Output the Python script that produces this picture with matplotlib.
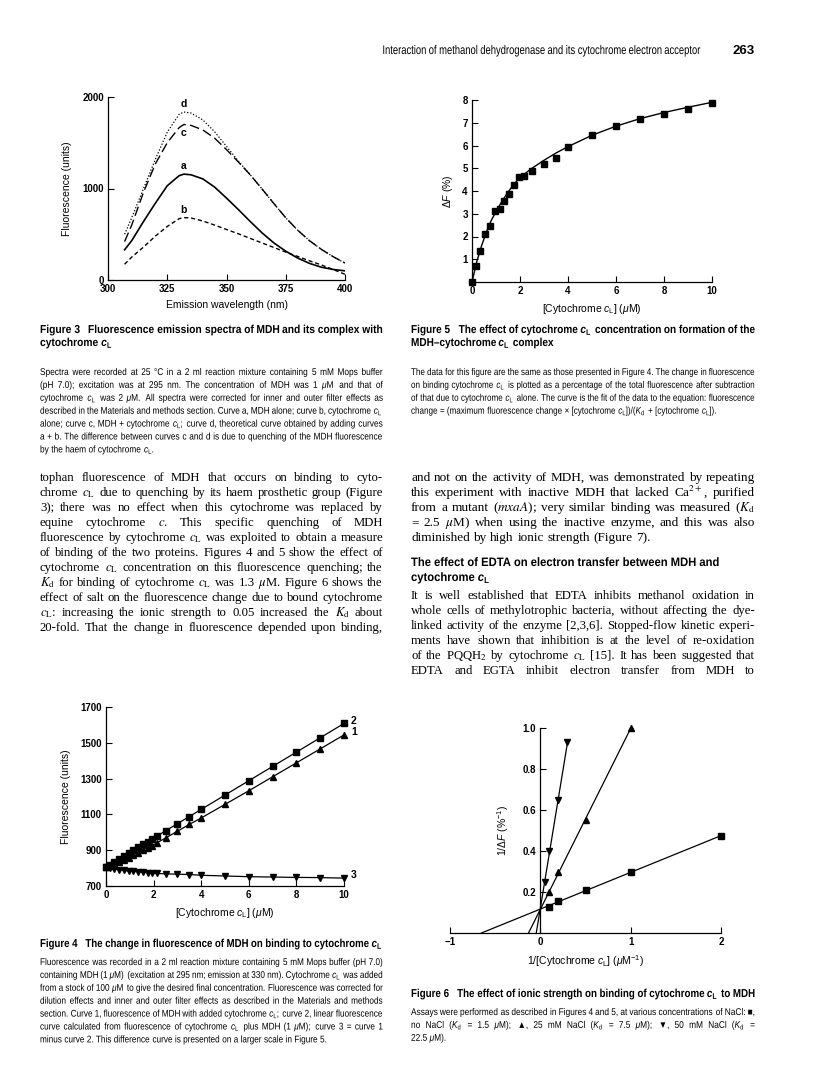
import matplotlib
matplotlib.use('Agg')
import matplotlib.pyplot as plt
import numpy as np
from matplotlib.font_manager import FontProperties
from matplotlib.patheffects import AbstractPathEffect
from matplotlib.ticker import FormatStrFormatter
from matplotlib.transforms import Affine2D

W, H = 816, 1089

# ---------------- data ----------------
# Figure 3: emission spectra (nm, fluorescence units)
wavelength = [307, 310, 315, 320, 325, 330, 332, 335, 340, 345, 350,
              355, 360, 365, 370, 375, 380, 385, 390, 395, 400]
curve_a = [330, 430, 640, 840, 1030, 1140, 1157, 1150, 1105, 1015, 895,
           770, 640, 515, 405, 315, 240, 182, 140, 115, 100]
curve_b = [172, 250, 360, 480, 585, 670, 682, 678, 645, 600, 552,
           505, 455, 405, 355, 305, 258, 210, 165, 115, 62]
curve_c = [420, 600, 960, 1270, 1500, 1665, 1700, 1690, 1640, 1550, 1425,
           1290, 1150, 995, 835, 680, 545, 430, 335, 255, 185]
curve_d = [500, 680, 1000, 1320, 1615, 1810, 1836, 1825, 1750, 1620, 1460,
           1300, 1150, 995, 835, 680, 545, 430, 335, 255, 185]

# Figures 4 and 5: cytochrome cL titration (uM)
conc = [0, 0.15, 0.35, 0.55, 0.75, 0.95, 1.15, 1.35, 1.55, 1.75, 1.95,
        2.15, 2.5, 3, 3.5, 4, 5, 6, 7, 8, 9, 10]
curve1 = [808, 814, 825, 835, 848, 859, 874, 887, 901, 914, 926,
          942, 968, 1006, 1044, 1080, 1156, 1232, 1310, 1388, 1466, 1544]
curve2 = [808, 820, 836, 852, 868, 884, 900, 916, 932, 948, 964,
          980, 1008, 1048, 1088, 1128, 1208, 1288, 1368, 1448, 1528, 1608]
curve3 = [808, 802, 797, 791, 788, 783, 782, 779, 777, 774, 770,
          770, 768, 766, 764, 760, 756, 752, 750, 748, 747, 744]
delta_f = [0, 0.69, 1.35, 2.1, 2.44, 3.13, 3.23, 3.57, 3.87, 4.25, 4.63,
           4.65, 4.9, 5.17, 5.47, 5.95, 6.46, 6.87, 7.16, 7.37, 7.59, 7.88]
fit_x = [0, 0.1, 0.2, 0.4, 0.6, 0.8, 1.0, 1.25, 1.5, 1.75, 2, 2.5, 3,
         3.5, 4, 5, 6, 7, 8, 9, 10]
fit_y = [0, 0.45, 0.9, 1.6, 2.2, 2.7, 3.1, 3.55, 3.95, 4.3, 4.6, 5.0, 5.35,
         5.67, 5.95, 6.45, 6.85, 7.18, 7.45, 7.68, 7.9]

# Figure 6: double-reciprocal plot at three NaCl concentrations
inv_conc_0 = [0.1, 0.2, 0.5, 1.0, 2.0]
inv_df_0 = [0.128, 0.154, 0.21, 0.30, 0.472]
inv_conc_25 = [0.1, 0.2, 0.5, 1.0]
inv_df_25 = [0.2, 0.3, 0.55, 1.0]
inv_conc_50 = [0.05, 0.1, 0.2, 0.3]
inv_df_50 = [0.25, 0.40, 0.65, 0.93]

# ---------------- fonts ----------------
plt.rcParams.update({
    'font.family': 'Liberation Sans',
    'mathtext.fontset': 'custom',
    'mathtext.rm': 'Liberation Sans',
    'mathtext.it': 'Liberation Sans:italic',
    'mathtext.bf': 'Liberation Sans:bold',
    'mathtext.bfit': 'Liberation Sans:italic:bold',
    'axes.linewidth': 0.9,
})


class Stretch(AbstractPathEffect):
    """Stretch glyphs upwards from the baseline: a smaller font drawn taller
    gives the look of the condensed face used on the page."""

    def __init__(self, sy):
        super().__init__()
        self.sy = sy

    def draw_path(self, renderer, gc, tpath, affine, rgbFace=None):
        y0 = affine.get_matrix()[1, 2]
        st = Affine2D().translate(0, -y0).scale(1, self.sy).translate(0, y0)
        gc0 = renderer.new_gc()
        gc0.copy_properties(gc)
        gc0.set_snap(False)
        renderer.draw_path(gc0, tpath, affine + st, rgbFace)
        gc0.restore()


def font(kind, size):
    if kind == 'serif':
        return FontProperties(family='Liberation Serif', size=size)
    if kind == 'bold':
        return FontProperties(family='Liberation Sans', weight='bold', size=size)
    return FontProperties(family='Liberation Sans', size=size)


fig = plt.figure(figsize=(W / 100, H / 100), dpi=100)
rend = fig.canvas.get_renderer()


def block(lines, x0, x1, y0, step, kind, size, ragged=(), condensed=False, right=False):
    """Word-by-word justified text; y0 = first baseline in pixels from the top."""
    math = 'stix' if kind == 'serif' else 'custom'
    rows, weights = [], []
    for ln in lines:
        words = ln.split()
        rows.append([fig.text(0, 0, w, fontproperties=font(kind, size), va='baseline',
                              math_fontfamily=math) for w in words])
        # wide gap after the figure number of a caption title
        weights.append([3 if (j == 1 and words[0] == 'Figure') else 1 for j in range(len(words) - 1)])
    sp = 0.27 * size * 100 / 72

    def widths(row):
        return [t.get_window_extent(rend).width for t in row]

    nat = [sum(widths(r)) + sp * sum(wt) for r, wt in zip(rows, weights)]
    scale = min(1.0, (x1 - x0) / max(nat))
    if scale < 1:
        for r in rows:
            for t in r:
                t.set_fontsize(size * scale)
                if condensed:
                    t.set_path_effects([Stretch(1 / scale)])
    sp *= scale
    for i, (r, wt) in enumerate(zip(rows, weights)):
        ws = widths(r)
        if i in ragged or not wt:
            unit = sp
        else:
            unit = (x1 - x0 - sum(ws)) / sum(wt)
        x = x1 - sum(ws) - unit * sum(wt) if right else x0
        for j, (t, w) in enumerate(zip(r, ws)):
            t.set_position((x / W, 1 - (y0 + i * step) / H))
            x += w + (unit * wt[j] if j < len(wt) else 0)


LX0, LX1 = 40, 383
RX0, RX1 = 411, 755

# running head
fig.text(RX1 / W, 1 - 54 / H, '263', fontproperties=font('bold', 9.5), ha='right', va='baseline')
block(['Interaction of methanol dehydrogenase and its cytochrome electron acceptor'],
      380, 700, 54, 13, 'cap', 9, ragged=(0,), condensed=True, right=True)

# ---- captions ----
block(['Figure 3 Fluorescence emission spectra of MDH and its complex with',
       r'cytochrome $\mathbfit{c}_\mathbf{L}$'],
      LX0, LX1, 333, 13, 'bold', 8.3, ragged=(1,), condensed=True)
block(['Spectra were recorded at 25 °C in a 2 ml reaction mixture containing 5 mM Mops buffer',
       r'(pH 7.0); excitation was at 295 nm. The concentration of MDH was 1 $\mu$M and that of',
       r'cytochrome $c_\mathrm{L}$ was 2 $\mu$M. All spectra were corrected for inner and outer filter effects as',
       r'described in the Materials and methods section. Curve a, MDH alone; curve b, cytochrome $c_\mathrm{L}$',
       r'alone; curve c, MDH + cytochrome $c_\mathrm{L}$; curve d, theoretical curve obtained by adding curves',
       'a + b. The difference between curves c and d is due to quenching of the MDH fluorescence',
       r'by the haem of cytochrome $c_\mathrm{L}$.'],
      LX0, LX1, 375, 12.9, 'cap', 7, ragged=(6,), condensed=True)

block(['Figure 5 The effect of cytochrome $\\mathbfit{c}_\\mathbf{L}$ concentration on formation of the',
       r'MDH–cytochrome $\mathbfit{c}_\mathbf{L}$ complex'],
      RX0, RX1, 333, 13, 'bold', 8.3, ragged=(1,), condensed=True)
block(['The data for this figure are the same as those presented in Figure 4. The change in fluorescence',
       r'on binding cytochrome $c_\mathrm{L}$ is plotted as a percentage of the total fluorescence after subtraction',
       r'of that due to cytochrome $c_\mathrm{L}$ alone. The curve is the fit of the data to the equation: fluorescence',
       r'change = (maximum fluorescence change × [cytochrome $c_\mathrm{L}$])/($K_\mathrm{d}$ + [cytochrome $c_\mathrm{L}$]).'],
      RX0, RX1, 375, 12.9, 'cap', 7, ragged=(3,), condensed=True)

block(['Figure 4 The change in fluorescence of MDH on binding to cytochrome $\\mathbfit{c}_\\mathbf{L}$'],
      LX0, LX1, 947, 13, 'bold', 8.3, condensed=True)
block(['Fluorescence was recorded in a 2 ml reaction mixture containing 5 mM Mops buffer (pH 7.0)',
       r'containing MDH (1 $\mu$M) (excitation at 295 nm; emission at 330 nm). Cytochrome $c_\mathrm{L}$ was added',
       r'from a stock of 100 $\mu$M to give the desired final concentration. Fluorescence was corrected for',
       'dilution effects and inner and outer filter effects as described in the Materials and methods',
       r'section. Curve 1, fluorescence of MDH with added cytochrome $c_\mathrm{L}$; curve 2, linear fluorescence',
       r'curve calculated from fluorescence of cytochrome $c_\mathrm{L}$ plus MDH (1 $\mu$M); curve 3 = curve 1',
       'minus curve 2. This difference curve is presented on a larger scale in Figure 5.'],
      LX0, LX1, 965, 12.9, 'cap', 7, ragged=(6,), condensed=True)

block(['Figure 6 The effect of ionic strength on binding of cytochrome $\\mathbfit{c}_\\mathbf{L}$ to MDH'],
      RX0, RX1, 997, 13, 'bold', 8.3, condensed=True)
block([r'Assays were performed as described in Figures 4 and 5, at various concentrations of NaCl: ■,',
       r'no NaCl ($K_\mathrm{d}$ = 1.5 $\mu$M); ▲, 25 mM NaCl ($K_\mathrm{d}$ = 7.5 $\mu$M); ▼, 50 mM NaCl ($K_\mathrm{d}$ =',
       r'22.5 $\mu$M).'],
      RX0, RX1, 1015, 12.9, 'cap', 7, ragged=(2,), condensed=True)

# ---- body text ----
block(['tophan fluorescence of MDH that occurs on binding to cyto-',
       r'chrome $c_\mathrm{L}$ due to quenching by its haem prosthetic group (Figure',
       '3); there was no effect when this cytochrome was replaced by',
       r'equine cytochrome $c$. This specific quenching of MDH',
       r'fluorescence by cytochrome $c_\mathrm{L}$ was exploited to obtain a measure',
       'of binding of the two proteins. Figures 4 and 5 show the effect of',
       r'cytochrome $c_\mathrm{L}$ concentration on this fluorescence quenching; the',
       r'$K_\mathrm{d}$ for binding of cytochrome $c_\mathrm{L}$ was 1.3 $\mu$M. Figure 6 shows the',
       'effect of salt on the fluorescence change due to bound cytochrome',
       r'$c_\mathrm{L}$: increasing the ionic strength to 0.05 increased the $K_\mathrm{d}$ about',
       '20-fold. That the change in fluorescence depended upon binding,'],
      LX0, LX1, 481, 15, 'serif', 9.6)

block(['and not on the activity of MDH, was demonstrated by repeating',
       r'this experiment with inactive MDH that lacked Ca$^{2+}$, purified',
       r'from a mutant ($mxaA$); very similar binding was measured ($K_\mathrm{d}$',
       r'= 2.5 $\mu$M) when using the inactive enzyme, and this was also',
       'diminished by high ionic strength (Figure 7).'],
      RX0, RX1, 481, 15, 'serif', 9.6, ragged=(4,))
block(['The effect of EDTA on electron transfer between MDH and',
       r'cytochrome $\mathbfit{c}_\mathbf{L}$'],
      RX0, 720, 566, 15, 'bold', 8.8, ragged=(0, 1), condensed=True)
block(['It is well established that EDTA inhibits methanol oxidation in',
       'whole cells of methylotrophic bacteria, without affecting the dye-',
       'linked activity of the enzyme [2,3,6]. Stopped-flow kinetic experi-',
       'ments have shown that inhibition is at the level of re-oxidation',
       r'of the PQQH$_2$ by cytochrome $c_\mathrm{L}$ [15]. It has been suggested that',
       'EDTA and EGTA inhibit electron transfer from MDH to'],
      RX0, RX1, 599, 15, 'serif', 9.6)


# ---------------- charts ----------------
def add_ax(l, r, t, b):
    ax = fig.add_axes([l / W, 1 - b / H, (r - l) / W, (b - t) / H])
    for s in ('top', 'right'):
        ax.spines[s].set_visible(False)
    ax.tick_params(direction='in', length=4, width=0.8, labelsize=7, pad=3)
    return ax


LAB = dict(fontsize=7.5)

# Figure 3
ax3 = add_ax(108, 345, 97, 280)
ax3.plot(wavelength, curve_a, 'k-', lw=1.2)
ax3.plot(wavelength, curve_b, 'k', lw=1, dashes=(3, 2))
ax3.plot(wavelength, curve_c, 'k', lw=1, dashes=(7, 3))
ax3.plot(wavelength, curve_d, 'k', lw=0.9, dashes=(1, 1.5))
ax3.set_xlim(300, 400)
ax3.set_ylim(0, 2000)
ax3.set_xticks([300, 325, 350, 375, 400])
ax3.set_yticks([0, 1000, 2000])
ax3.set_xlabel('Emission wavelength (nm)', **LAB)
ax3.set_ylabel('Fluorescence (units)', **LAB)
ax3.yaxis.set_label_coords(-0.15, 0.5)
for name, ys, off in zip('abcd', [curve_a, curve_b, curve_c, curve_d], [5.5, 5.5, -6.5, 5.5]):
    i = int(np.argmax(ys))
    ax3.annotate(name, (wavelength[i], ys[i]), xytext=(0, off), textcoords='offset points',
                 ha='center', va='center', fontsize=7.5, fontweight='bold')

# Figure 5
ax5 = add_ax(472, 712, 100, 282)
ax5.plot(fit_x, fit_y, 'k-', lw=1)
ax5.plot(conc, delta_f, 'ks', ms=4.3, clip_on=False)
ax5.set_xlim(0, 10)
ax5.set_ylim(0, 8)
ax5.set_xticks([0, 2, 4, 6, 8, 10])
ax5.set_yticks(range(1, 9))
ax5.set_xlabel(r'[Cytochrome $c_\mathrm{L}$] ($\mu$M)', **LAB)
ax5.set_ylabel(r'$\Delta\mathit{F}$ (%)', **LAB)
ax5.yaxis.set_label_coords(-0.07, 0.5)

# Figure 4
ax4 = add_ax(106, 344, 707, 886)
for ys, m, lab in [(curve2, 's', '2'), (curve1, '^', '1'), (curve3, 'v', '3')]:
    ax4.plot(conc, ys, 'k-', marker=m, ms=3.8, lw=0.9, clip_on=False)
    ax4.annotate(lab, (conc[-1], ys[-1]), xytext=(5, 2), textcoords='offset points',
                 ha='left', va='center', fontsize=7.5, fontweight='bold')
ax4.set_xlim(0, 10)
ax4.set_ylim(700, 1700)
ax4.set_xticks([0, 2, 4, 6, 8, 10])
ax4.set_yticks([700, 900, 1100, 1300, 1500, 1700])
ax4.set_xlabel(r'[Cytochrome $c_\mathrm{L}$] ($\mu$M)', **LAB)
ax4.set_ylabel('Fluorescence (units)', **LAB)
ax4.yaxis.set_label_coords(-0.145, 0.5)

# Figure 6
ax6 = add_ax(450, 721, 728, 933)
ax6.spines['left'].set_position(('data', 0))
for xs, ys, m in [(inv_conc_0, inv_df_0, 's'), (inv_conc_25, inv_df_25, '^'),
                  (inv_conc_50, inv_df_50, 'v')]:
    k, b = np.polyfit(xs, ys, 1)
    line_x = np.array([-b / k, max(xs)])
    ax6.plot(line_x, k * line_x + b, 'k-', lw=0.9)
    ax6.plot(xs, ys, 'k', marker=m, ls='none', ms=4.3 if m == 's' else 4, clip_on=False)
ax6.set_xlim(-1, 2)
ax6.set_ylim(0, 1.0)
ax6.set_xticks([-1, 0, 1, 2])
ax6.set_yticks([0.2, 0.4, 0.6, 0.8, 1.0])
ax6.yaxis.set_major_formatter(FormatStrFormatter('%.1f'))
ax6.set_xlabel(r'1/[Cytochrome $c_\mathrm{L}$] ($\mu$M$^{-1}$)', **LAB)
ax6.set_ylabel(r'1/$\Delta\mathit{F}$ (%$^{-1}$)', **LAB)
ax6.yaxis.set_label_coords(0.225, 0.5)

for ax in (ax3, ax4, ax5, ax6):
    plt.setp(ax.get_xticklabels() + ax.get_yticklabels(), fontweight='bold')

fig.savefig('out.png', dpi=100)
